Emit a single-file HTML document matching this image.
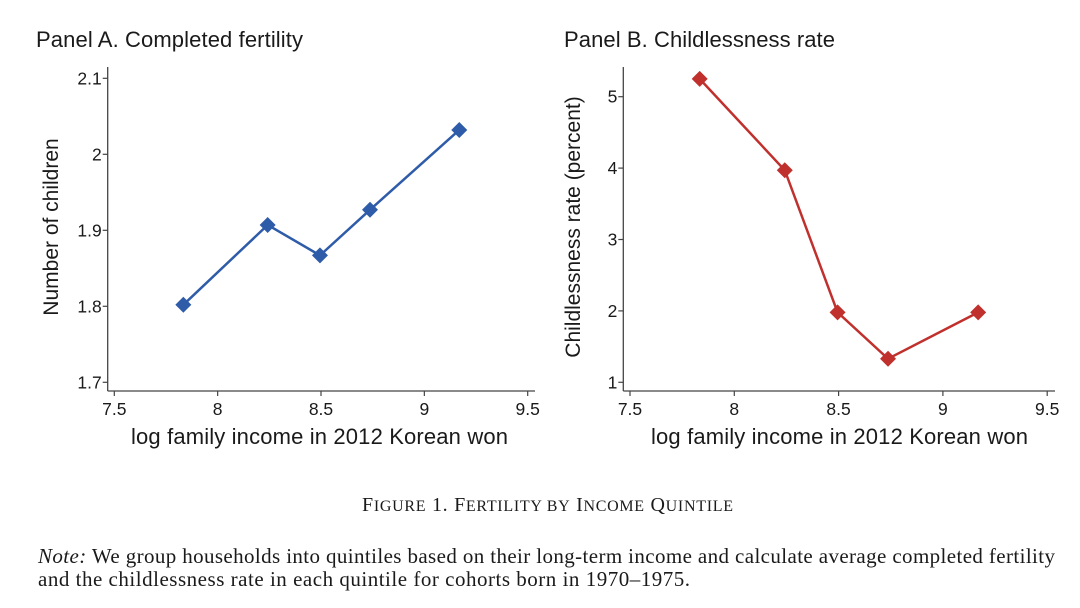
<!DOCTYPE html>
<html><head><meta charset="utf-8"><style>
body{margin:0;background:#fff;width:1080px;height:608px;overflow:hidden}
svg{display:block}
.t{font-family:"Liberation Sans",Arial,sans-serif;fill:#1a1a1a}
.s{font-family:"Liberation Serif","Times New Roman",serif;fill:#1a1a1a}
</style></head><body>
<svg id="c" width="1080" height="608">
<text class="t" x="36" y="47" font-size="22" textLength="267">Panel A. Completed fertility</text>
<text class="t" x="564" y="47" font-size="22" textLength="271">Panel B. Childlessness rate</text>
<text class="t" x="131" y="444" font-size="22" textLength="377">log family income in 2012 Korean won</text>
<text class="t" x="651" y="444" font-size="22" textLength="377">log family income in 2012 Korean won</text>
<text class="t" transform="translate(58,227) rotate(-90)" font-size="21" text-anchor="middle">Number of children</text>
<text class="t" transform="translate(580,227) rotate(-90)" font-size="21" text-anchor="middle">Childlessness rate (percent)</text>
<text class="s" x="362" y="511" font-size="20" textLength="371">F<tspan font-size="16">IGURE</tspan> 1. F<tspan font-size="16">ERTILITY BY</tspan> I<tspan font-size="16">NCOME</tspan> Q<tspan font-size="16">UINTILE</tspan></text>
<text class="s" x="38" y="563" font-size="21" textLength="1017"><tspan font-style="italic">Note:</tspan> We group households into quintiles based on their long-term income and calculate average completed fertility</text>
<text class="s" x="38" y="586" font-size="21" textLength="652">and the childlessness rate in each quintile for cohorts born in 1970–1975.</text>
</svg>
<script>
const incomeX=[7.834,8.242,8.495,8.737,9.169];
const fertility=[1.802,1.907,1.867,1.927,2.032];
const childless=[5.25,3.97,1.98,1.33,1.98];
const xTicks=[7.5,8,8.5,9,9.5];
const xTickLabels=["7.5","8","8.5","9","9.5"];
const yTicksA=[1.7,1.8,1.9,2,2.1];
const yTickLabelsA=["1.7","1.8","1.9","2","2.1"];
const yTicksB=[1,2,3,4,5];
const yTickLabelsB=["1","2","3","4","5"];
const svg=document.getElementById('c');
const NS='http://www.w3.org/2000/svg';
function mk(tag,at){const e=document.createElementNS(NS,tag);for(const k in at)e.setAttribute(k,at[k]);svg.appendChild(e);return e;}
function panel(p,key,vals,yT,yL,color){
  const sx=v=>p.x0+(v-7.5)*p.kx, sy=v=>p.y0-(v-p.ymin)*p.ky;
  let e=mk('line',{x1:p.ax,y1:67,x2:p.ax,y2:391,stroke:'#444','stroke-width':1.3});
  
  
  e=mk('line',{x1:p.ax,y1:391,x2:p.xr,y2:391,stroke:'#444','stroke-width':1.3});
  
  
  xTicks.forEach((v,i)=>{
    mk('line',{x1:sx(v),y1:391,x2:sx(v),y2:396,stroke:'#444','stroke-width':1.2});
    const t=mk('text',{x:sx(v),y:415,'font-size':17.5,'text-anchor':'middle',class:'t'});t.textContent=xTickLabels[i];
    
    
  });
  yT.forEach((v,i)=>{
    mk('line',{x1:p.ax-5,y1:sy(v),x2:p.ax,y2:sy(v),stroke:'#444','stroke-width':1.2});
    const t=mk('text',{x:p.ax-6,y:sy(v)+6,'font-size':17.5,'text-anchor':'end',class:'t'});t.textContent=yL[i];
    
    
  });
  const pts=incomeX.map((x,i)=>sx(x)+','+sy(vals[i])).join(' ');
  e=mk('polyline',{points:pts,fill:'none',stroke:color,'stroke-width':2.5});
  
  
  incomeX.forEach((x,i)=>{
    const cx=sx(x),cy=sy(vals[i]),r=8;
    const d=mk('polygon',{points:`${cx},${cy-r} ${cx+r},${cy} ${cx},${cy+r} ${cx-r},${cy}`,fill:color});
    
    
  });
}
panel({ax:107.7,xr:535,x0:114.3,kx:206.7,y0:382.3,ymin:1.7,ky:760},'panel-a',fertility,yTicksA,yTickLabelsA,'#2f5ca8');
panel({ax:623.3,xr:1055,x0:630,kx:208.6,y0:382.3,ymin:1,ky:71.4},'panel-b',childless,yTicksB,yTickLabelsB,'#c0302d');
</script>
</body></html>
